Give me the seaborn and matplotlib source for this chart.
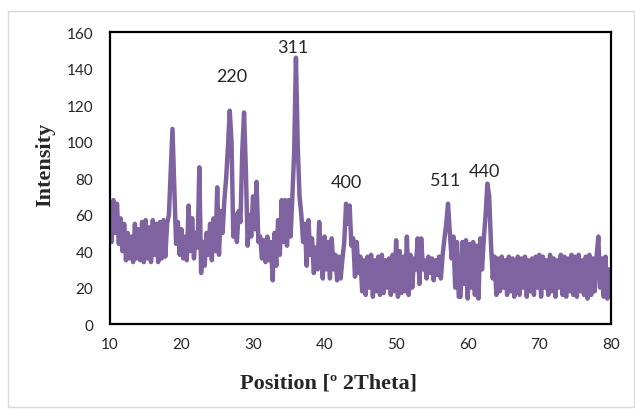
import numpy as np
import pandas as pd
import matplotlib
matplotlib.use("Agg")
import matplotlib.pyplot as plt
import seaborn as sns
from matplotlib.patches import Rectangle

# 2Theta grid (0.25 deg steps) and intensity
two_theta = np.arange(10, 80.001, 0.25)
intensity = [
    62, 45, 68, 50, 66, 44, 58, 40, 55, 35, 50, 36, 48, 34, 55, 36,
    52, 35, 56, 34, 57, 36, 53, 34, 57, 38, 55, 34, 56, 36, 57, 37,
    55, 60, 84, 107, 75, 44, 56, 38,
    52, 36, 48, 35, 65, 40, 58, 36, 50, 42, 86, 28, 45, 32, 50, 38,
    55, 35, 58, 40, 75, 38, 62, 50, 68, 80, 97, 117, 100, 48, 60, 45,
    62, 56, 95, 116, 85, 43, 60, 48,
    70, 52, 78, 45, 48, 36, 46, 34, 48, 35, 45, 24, 50, 32, 57, 38,
    68, 45, 68, 43, 68, 48, 70, 94, 146, 98, 70, 60, 45, 55, 32, 57,
    38, 47, 28, 42, 30, 56, 36, 25,
    48, 30, 45, 25, 47, 30, 38, 24, 37, 25, 36, 45, 66, 55, 65, 43,
    47, 26, 45, 28, 37, 18, 35, 16, 37, 20, 38, 15, 35, 18, 37, 16,
    38, 17, 35, 20, 36, 16, 38, 18,
    46, 15, 40, 17, 37, 18, 48, 16, 38, 20, 36, 30, 47, 22, 47, 30,
    35, 25, 37, 28, 36, 24, 35, 27, 37, 25, 38, 47, 55, 66, 50, 36,
    48, 20, 45, 15, 15, 45, 22, 46,
    14, 44, 20, 45, 16, 43, 14, 47, 30, 47, 60, 77, 70, 44, 25, 37,
    16, 36, 18, 37, 20, 35, 16, 37, 18, 36, 15, 30, 37, 16, 36, 20,
    37, 15, 35, 18, 36, 16, 37, 20,
    38, 15, 37, 20, 35, 16, 38, 18, 36, 15, 35, 20, 38, 16, 37, 15,
    36, 18, 38, 16, 37, 15, 38, 18, 35, 16, 37, 14, 38, 16, 36, 18,
    37, 48, 20, 36, 15, 37, 14, 30,
    27,
]

peak_labels = ["220", "311", "400", "511", "440"]
peak_x = [27.0, 35.6, 43.1, 56.9, 62.4]
peak_y = [136, 152, 78, 79, 84]

df = pd.DataFrame({"theta": two_theta, "intensity": intensity})

sns.set_style("white")
plt.rcParams["font.family"] = ["Lato", "DejaVu Sans"]

fig = plt.figure(figsize=(6.35, 4.10), dpi=100)
ax = fig.add_axes([0.173, 0.207, 0.789, 0.712])

sns.lineplot(data=df, x="theta", y="intensity", ax=ax, color="#7f63a1",
             linewidth=3.2, estimator=None)

for lab, px, py in zip(peak_labels, peak_x, peak_y):
    ax.text(px, py, lab, ha="center", va="center", fontsize=13)

ax.set_xlim(10, 80)
ax.set_ylim(0, 160)
ax.set_xticks(range(10, 81, 10))
ax.set_yticks(range(0, 161, 20))
ax.tick_params(labelsize=11, length=0)
ax.tick_params(axis="y", pad=12)
ax.tick_params(axis="x", pad=9)
for s in ax.spines.values():
    s.set_color("black")
    s.set_linewidth(1.6)

ax.set_xlabel("")
ax.set_ylabel("")
fig.text(329 / 635, 1 - 384 / 410, "Position [º 2Theta]", ha="center",
         va="center", fontsize=16, fontweight="bold", family="Liberation Serif")
fig.text(45 / 635, 1 - 165 / 410, "Intensity", ha="center", va="center",
         rotation=90, fontsize=16, fontweight="bold", family="Liberation Serif")

fig.patches.append(Rectangle((8 / 635, 2 / 410), 626 / 635, 396 / 410,
                             transform=fig.transFigure, fill=False,
                             edgecolor="#d9d9d9", linewidth=1))

fig.savefig("out.png", dpi=100)
